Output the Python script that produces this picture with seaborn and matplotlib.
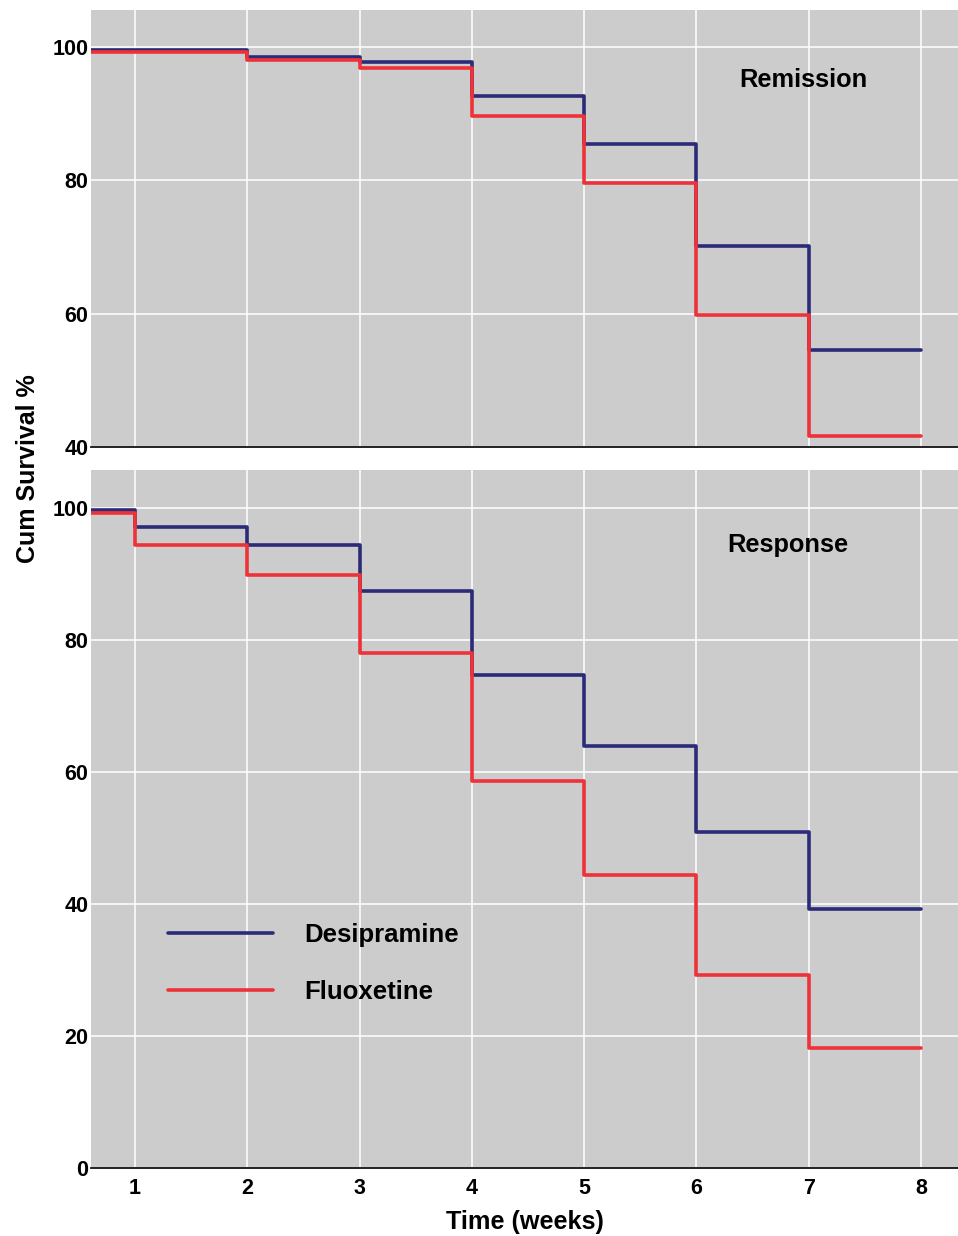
import matplotlib
matplotlib.use("Agg")
import matplotlib.pyplot as plt
import pandas as pd
import seaborn as sns

# week index; each value holds from that week until the next one
weeks = [0, 1, 2, 3, 4, 5, 6, 7, 8]

remission_desipramine = [99.5, 99.5, 98.5, 97.7, 92.7, 85.4, 70.1, 54.6, 54.6]
remission_fluoxetine = [99.2, 99.2, 98.0, 96.9, 89.7, 79.6, 59.8, 41.6, 41.6]

response_desipramine = [99.8, 97.1, 94.4, 87.4, 74.8, 64.0, 51.0, 39.3, 39.3]
response_fluoxetine = [99.3, 94.5, 89.9, 78.0, 58.7, 44.4, 29.2, 18.2, 18.2]

drugs = ["Desipramine", "Fluoxetine"]
colors = {"Desipramine": "#2b2b78", "Fluoxetine": "#ee3239"}
x_ticks = [1, 2, 3, 4, 5, 6, 7, 8]
top_y_ticks = [40, 60, 80, 100]
bottom_y_ticks = [0, 20, 40, 60, 80, 100]


def long_frame(desi, fluo):
    return pd.DataFrame({
        "Week": weeks + weeks,
        "Survival": desi + fluo,
        "Drug": [drugs[0]] * len(weeks) + [drugs[1]] * len(weeks),
    })


sns.set_theme(style="darkgrid", rc={
    "axes.facecolor": "#cccccc",
    "grid.color": "white",
    "grid.linewidth": 1.1,
    "axes.edgecolor": "#111111",
    "text.color": "black",
    "axes.labelcolor": "black",
    "xtick.color": "black",
    "ytick.color": "black",
})
plt.rcParams["font.family"] = ["Liberation Sans", "DejaVu Sans"]
plt.rcParams["font.weight"] = "bold"

fig = plt.figure(figsize=(9.58, 12.36), dpi=100)
ax_top = fig.add_axes([0.095, 0.6384, 0.905, 0.3535])
ax_bot = fig.add_axes([0.095, 0.0550, 0.905, 0.5647])

panels = [
    (ax_top, long_frame(remission_desipramine, remission_fluoxetine), "Remission", (40, 105.55), top_y_ticks, (6.95, 95.1)),
    (ax_bot, long_frame(response_desipramine, response_fluoxetine), "Response", (0, 105.8), bottom_y_ticks, (6.81, 94.4)),
]

for ax, df, title, ylim, yticks, txt_pos in panels:
    sns.lineplot(data=df, x="Week", y="Survival", hue="Drug", palette=colors,
                 drawstyle="steps-post", linewidth=2.6, ax=ax, legend=(ax is ax_bot))
    ax.set_xlim(0.608, 8.33)
    ax.set_ylim(*ylim)
    ax.set_xticks(x_ticks)
    ax.set_yticks(yticks)
    ax.set_xlabel("")
    ax.set_ylabel("")
    for side in ["top", "left", "right"]:
        ax.spines[side].set_visible(False)
    ax.spines["bottom"].set_visible(True)
    ax.spines["bottom"].set_linewidth(1.3)
    ax.tick_params(axis="both", length=0, labelsize=15.5)
    ax.tick_params(axis="y", pad=2)
    ax.tick_params(axis="x", pad=7)
    for lab in ax.get_xticklabels() + ax.get_yticklabels():
        lab.set_fontweight("bold")
    ax.text(txt_pos[0], txt_pos[1], title, ha="center", va="center",
            fontsize=18.3, fontweight="bold", color="black")

ax_top.set_xticklabels([])

handles, labels = ax_bot.get_legend_handles_labels()
ax_bot.legend(handles, labels, loc="center left", bbox_to_anchor=(0.062, 0.293),
              frameon=False, handlelength=4.1, handletextpad=1.2, labelspacing=1.3,
              prop={"size": 18.5, "weight": "bold"})

ax_bot.set_xlabel("Time (weeks)", fontsize=18.2, fontweight="bold", labelpad=8)
fig.text(0.029, 0.621, "Cum Survival %", rotation=90, ha="center", va="center",
         fontsize=18, fontweight="bold")

fig.savefig("out.png", dpi=100)
